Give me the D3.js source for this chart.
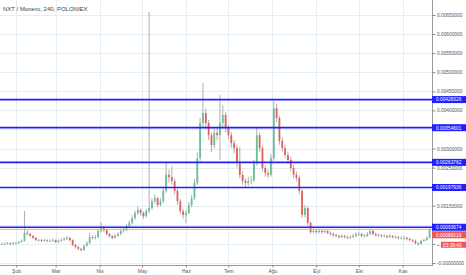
<!DOCTYPE html>
<html lang="tr">
<head>
    <meta charset="UTF-8">
    <title>NXT / Monero</title>
    <script src="https://d3js.org/d3.v7.min.js"></script>
    <style>
        body { margin: 0; background: #fff; }
        svg text { font-family: "Liberation Sans", Arial, sans-serif; }
        .grid line { stroke: #e6eef5; stroke-width: 1; }
    </style>
</head>
<body>
    <svg id="chart" width="466" height="275"></svg>

    <script>
        // 2-day candles from 21 Jan 2015, values in XMR x 1e-5
        let closes = [50,50,52,50,52,52,55,58,79,76,71,66,60,60,58,60,58,58,60,55,58,60,63,66,60,47,42,37,34,45,
            52,68,66,68,84,94,86,76,71,66,71,76,84,86,97,105,118,131,139,131,123,136,144,162,170,152,162,189,231,225,
            215,189,162,136,126,131,152,170,210,275,367,393,367,335,309,341,335,367,388,354,335,314,301,262,231,215,210,215,217,262,
            335,301,249,236,231,275,406,380,320,301,283,270,249,231,223,189,126,144,105,81,84,81,84,81,84,79,76,73,71,68,
            71,68,66,68,71,76,76,71,71,76,84,76,73,73,71,71,68,71,68,68,66,66,66,63,60,58,52,50,58,60,
            66,88.219]
        let highs = [53,54,55,54,56,55,58,62,136,86,79,73,68,64,63,64,63,62,65,62,62,66,68,71,68,62,50,45,40,48,
            57,79,73,74,89,107,97,89,79,73,76,81,90,93,103,112,125,138,149,143,135,142,658,170,180,174,170,200,262,245,
            254,222,195,168,142,138,160,178,220,290,380,472,405,375,342,352,356,440,414,395,362,343,322,310,304,240,222,226,228,270,
            354,342,308,256,244,285,424,418,386,330,310,292,278,258,240,230,194,152,148,108,90,89,90,88,89,87,83,80,77,74,
            75,74,72,73,76,81,82,79,76,81,90,87,80,78,76,75,74,75,73,72,71,70,70,69,66,63,61,55,61,64,
            70,95]
        let lows = [47,47,49,47,48,49,50,53,56,72,67,62,57,56,55,55,54,55,56,52,52,56,58,60,56,44,38,33,30,32,
            43,50,61,62,65,80,81,72,66,62,63,68,73,80,83,92,100,113,126,124,116,119,130,140,156,146,148,157,184,212,
            205,180,152,128,116,105,128,146,165,205,268,355,352,322,291,300,322,270,355,342,324,302,288,250,222,205,199,203,206,212,
            255,292,240,226,222,226,268,370,310,292,275,260,240,222,214,180,118,120,98,76,78,77,77,77,78,75,72,69,67,64,
            65,64,62,63,65,68,72,67,67,68,73,72,69,69,67,67,64,65,64,64,62,62,61,59,56,53,48,45,48,55,
            58,64]
        let firstOpen = 49

        let monthLabels = ["Şub","Mar","Nis","May","Haz","Tem","Ağu","Eyl","Eki","Kas"]
        let monthDates = d3.range(1, 11).map(m => new Date(2015, m, 1))

        let yTickValues = d3.range(0, 14).map(k => k * 0.0005)
        let levelValues = [0.00428326, 0.00354601, 0.00263762, 0.00197936, 0.00093674]
        let lastPrice = 0.00088219
        let countdown = "03:39:40"
        let title = "NXT / Monero, 240, POLONIEX"

        let svg = d3.select("#chart")
        let plotW = 432, plotB = 265

        let x = d3.scaleTime()
            .domain([new Date(2015, 0, 20, 17), new Date(2015, 10, 21, 17)])
            .range([0, plotW])
        let y = d3.scaleLinear().domain([0, 0.0065]).range([263, 15])

        // build candles
        let candles = closes.map(function(c, i){
            let start = d3.timeDay.offset(new Date(2015, 0, 21), 2 * i)
            return {
                t: d3.timeHour.offset(start, 24),
                o: (i == 0 ? firstOpen : closes[i-1]) * 1e-5,
                c: c * 1e-5,
                h: highs[i] * 1e-5,
                l: lows[i] * 1e-5
            }
        })

        // grid
        let grid = svg.append("g").attr("class", "grid")
        grid.selectAll(".vg").data(monthDates).enter().append("line")
            .attr("x1", d => Math.round(x(d)) + 0.5).attr("x2", d => Math.round(x(d)) + 0.5)
            .attr("y1", 0).attr("y2", plotB)
        grid.selectAll(".hg").data(yTickValues).enter().append("line")
            .attr("x1", 0).attr("x2", plotW)
            .attr("y1", d => Math.round(y(d)) + 0.5).attr("y2", d => Math.round(y(d)) + 0.5)

        // title
        svg.append("text").attr("x", 3).attr("y", 10.5)
            .attr("font-size", 6).attr("fill", "#444").text(title)

        // candles
        let cw = 1.8
        let cg = svg.append("g")
        cg.selectAll(".wick").data(candles).enter().append("line")
            .attr("x1", d => x(d.t)).attr("x2", d => x(d.t))
            .attr("y1", d => y(d.h)).attr("y2", d => y(d.l))
            .attr("stroke", "#9a9a9a").attr("stroke-width", 0.8)
        cg.selectAll(".body").data(candles).enter().append("rect")
            .attr("x", d => x(d.t) - cw / 2).attr("width", cw)
            .attr("y", d => y(Math.max(d.o, d.c)))
            .attr("height", d => Math.max(0.8, Math.abs(y(d.o) - y(d.c))))
            .attr("fill", d => d.c >= d.o ? "#6bbf95" : "#e0605a")

        // last price line
        svg.append("line").attr("x1", 0).attr("x2", plotW)
            .attr("y1", y(lastPrice)).attr("y2", y(lastPrice))
            .attr("stroke", "#f3a3a3").attr("stroke-width", 1)

        // level lines
        svg.selectAll(".lvl").data(levelValues).enter().append("line")
            .attr("x1", 0).attr("x2", plotW)
            .attr("y1", d => y(d)).attr("y2", d => y(d))
            .attr("stroke", "#1f1fff").attr("stroke-width", 1.7)

        // label positions on the price axis
        let boxH = 7
        let py = Math.max(y(lastPrice), y(levelValues[4]) + boxH + 0.5)
        let cy = py + 10
        let boxYs = levelValues.map(d => y(d)).concat([py])

        // right axis
        svg.append("line").attr("x1", plotW + 0.5).attr("x2", plotW + 0.5)
            .attr("y1", 0).attr("y2", plotB).attr("stroke", "#9a9a9a")
        let yAxis = d3.axisRight(y).tickValues(yTickValues).tickSize(3).tickPadding(1.5)
            .tickFormat(d => d == 0 ? "-0.00000000" : d3.format(".8f")(d))
        let ya = svg.append("g").attr("transform", `translate(${plotW + 0.5},0)`).call(yAxis)
        ya.select(".domain").remove()
        ya.selectAll("line").attr("stroke", "#888")
        ya.selectAll("text").attr("font-size", 4.8).attr("fill", "#555")
            .attr("font-family", "Liberation Sans, Arial, sans-serif")
        // labels hidden behind the price boxes, as on the reference
        ya.selectAll(".tick").filter(d => boxYs.some(b => Math.abs(b - y(d)) < 5))
            .select("text").remove()
        svg.append("clipPath").attr("id", "cdclip").append("rect")
            .attr("x", plotW).attr("y", 0).attr("width", 9).attr("height", 275)
        ya.selectAll(".tick").filter(d => Math.abs(cy - y(d)) < 5)
            .select("text").attr("clip-path", "url(#cdclip)")
            .attr("transform", `translate(${-plotW - 0.5},0)`)
            .attr("x", plotW + 5)

        // bottom axis
        svg.append("line").attr("x1", 0).attr("x2", plotW + 1)
            .attr("y1", plotB + 0.5).attr("y2", plotB + 0.5).attr("stroke", "#9a9a9a")
        let xAxis = d3.axisBottom(x).tickValues(monthDates).tickSize(2).tickPadding(2)
            .tickFormat((d, i) => monthLabels[i])
        let xa = svg.append("g").attr("transform", `translate(0,${plotB + 0.5})`).call(xAxis)
        xa.select(".domain").remove()
        xa.selectAll("line").attr("stroke", "#888")
        xa.selectAll("text").attr("font-size", 5).attr("fill", "#555")
            .attr("font-family", "Liberation Sans, Arial, sans-serif")

        // level labels
        let lab = svg.selectAll(".lab").data(levelValues).enter().append("g")
            .attr("transform", d => `translate(${plotW},${y(d)})`)
        lab.append("rect").attr("x", 0).attr("y", -boxH / 2).attr("width", 34).attr("height", boxH)
            .attr("fill", "#1f1fff")
        lab.append("text").attr("x", 4).attr("y", 1.8).attr("font-size", 4.8).attr("fill", "#fff")
            .text(d => d3.format(".8f")(d))

        // last price label, pushed below the nearest level label
        let pl = svg.append("g").attr("transform", `translate(${plotW},${py})`)
        pl.append("rect").attr("x", 0).attr("y", -boxH / 2).attr("width", 34).attr("height", boxH)
            .attr("fill", "#f05656")
        pl.append("text").attr("x", 4).attr("y", 1.8).attr("font-size", 4.8).attr("fill", "#fff")
            .text(d3.format(".8f")(lastPrice))
        let cd = svg.append("g").attr("transform", `translate(${plotW + 9},${cy})`)
        cd.append("rect").attr("x", 0).attr("y", -boxH / 2 + 0.5).attr("width", 25).attr("height", boxH - 1)
            .attr("fill", "#f05656")
        cd.append("text").attr("x", 2).attr("y", 1.8).attr("font-size", 4.8).attr("fill", "#fff")
            .text(countdown)
    </script>
</body>
</html>
